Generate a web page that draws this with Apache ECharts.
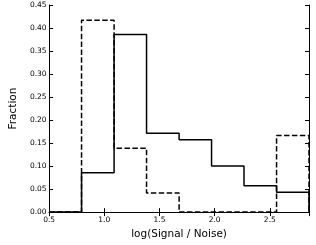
<!DOCTYPE html>
<html>
<head>
<meta charset="utf-8">
<script src="https://cdn.jsdelivr.net/npm/echarts@6/dist/echarts.min.js"></script>
<style>
html,body{margin:0;padding:0;background:#fff;}
#c{width:316px;height:245px;}
</style>
</head>
<body>
<div id="c"></div>
<script>
// Histogram bin edges (log Signal/Noise)
var binEdges = [0.5, 0.794, 1.089, 1.383, 1.678, 1.972, 2.266, 2.561, 2.855];
// Fraction per bin, solid histogram
var solidValues = [0.0, 0.0857, 0.3857, 0.1714, 0.1571, 0.1, 0.0571, 0.0429];
// Fraction per bin, dashed histogram
var dashedValues = [0.0, 0.4167, 0.1389, 0.0417, 0.0, 0.0, 0.0, 0.1667];
var xTicks = [0.5, 1.0, 1.5, 2.0, 2.5];
var yTicks = [0.00, 0.05, 0.10, 0.15, 0.20, 0.25, 0.30, 0.35, 0.40, 0.45];

function stepPoints(edges, vals) {
  var pts = [[edges[0], 0]];
  for (var i = 0; i < vals.length; i++) {
    pts.push([edges[i], vals[i]]);
    pts.push([edges[i + 1], vals[i]]);
  }
  pts.push([edges[edges.length - 1], 0]);
  return pts;
}

var FONT = 'DejaVu Sans';
var chart = echarts.init(document.getElementById('c'), null, {renderer: 'canvas'});
var axisLine = {show: true, lineStyle: {color: '#000', width: 1}};
var xMin = binEdges[0], xMax = binEdges[binEdges.length - 1];
var yMin = yTicks[0], yMax = yTicks[yTicks.length - 1];

chart.setOption({
  animation: false,
  backgroundColor: '#fff',
  grid: {left: 31, right: 7, top: 5, bottom: 25, containLabel: false},
  xAxis: [{
    type: 'value', min: xMin, max: xMax, interval: 0.5, position: 'bottom',
    name: 'log(Signal / Noise)', nameLocation: 'middle', nameGap: 13,
    nameTextStyle: {fontFamily: FONT, fontSize: 10.5, color: '#000', verticalAlign: 'top'},
    axisLine: axisLine,
    axisTick: {show: true, inside: true, length: 4, lineStyle: {color: '#000'}},
    axisLabel: {fontFamily: FONT, fontSize: 7.5, color: '#000', margin: 4, showMaxLabel: false,
      formatter: function (v) { return v.toFixed(1); }},
    splitLine: {show: false}
  }, {
    type: 'value', min: xMin, max: xMax, interval: 0.5, position: 'top',
    axisLine: axisLine,
    axisTick: {show: true, inside: true, length: 4, lineStyle: {color: '#000'}},
    axisLabel: {show: false}, splitLine: {show: false}
  }],
  yAxis: [{
    type: 'value', min: yMin, max: yMax, interval: 0.05, position: 'left',
    name: 'Fraction', nameLocation: 'middle', nameGap: 18, nameRotate: 90,
    nameTextStyle: {fontFamily: FONT, fontSize: 10.5, color: '#000'},
    axisLine: axisLine,
    axisTick: {show: true, inside: true, length: 4, lineStyle: {color: '#000'}},
    axisLabel: {fontFamily: FONT, fontSize: 7.5, color: '#000', margin: 2.5,
      formatter: function (v) { return v.toFixed(2); }},
    splitLine: {show: false}
  }, {
    type: 'value', min: yMin, max: yMax, interval: 0.05, position: 'right',
    axisLine: axisLine,
    axisTick: {show: true, inside: true, length: 4, lineStyle: {color: '#000'}},
    axisLabel: {show: false}, splitLine: {show: false}
  }],
  series: [{
    type: 'line', xAxisIndex: 0, yAxisIndex: 0,
    data: stepPoints(binEdges, dashedValues),
    symbol: 'none', silent: true,
    lineStyle: {color: '#000', width: 1.5, type: [5.5, 2.4]}
  }, {
    type: 'line', xAxisIndex: 0, yAxisIndex: 0,
    data: stepPoints(binEdges, solidValues),
    symbol: 'none', silent: true,
    lineStyle: {color: '#000', width: 1.5, type: 'solid'}
  }]
});
</script>
</body>
</html>
